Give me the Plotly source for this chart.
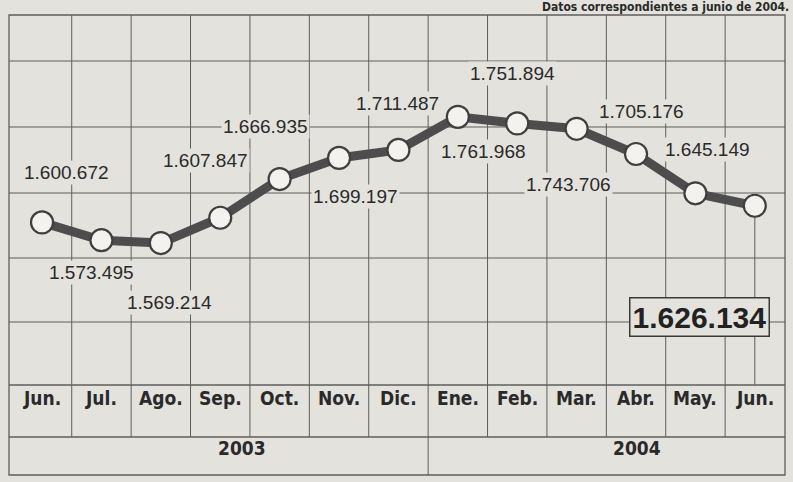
import plotly.graph_objects as go

# ---------------- data ----------------
months = ["Jun.", "Jul.", "Ago.", "Sep.", "Oct.", "Nov.", "Dic.",
          "Ene.", "Feb.", "Mar.", "Abr.", "May.", "Jun."]
values = [1600672, 1573495, 1569214, 1607847, 1666935, 1699197, 1711487,
          1761968, 1751894, 1743706, 1705176, 1645149, 1626134]
years = ["2003", "2004"]
year_pos = [3.37, 10.02]
subtitle = "Datos correspondientes a junio de 2004."

# ---------------- layout constants ----------------
W, H = 793, 482
ML, MR, MT, MB = 9, 8, 15, 7
PH = H - MT - MB
BG = "#e4e2dc"
GRID = "#5e5e5e"
TXT = "#2a2a2a"
LINE = "#4d4d4d"
NUM_FONT = "Liberation Sans, Arial, sans-serif"
COND_FONT = "DejaVu Sans Condensed, Liberation Sans Narrow, sans-serif"

# label offsets in pixels relative to each point (x right, y down)
label_dx = [24, -10, 9, -15, -14, 16, -1, 26, -5, -8, 5, 12]
label_dy = [-50, 32, 59, -57, -53, 39, -46, 35, -50, 56, -43, -44]
box_dx, box_dy = -55, 111

# grid in pixel rows
h_grid_px = [61, 127, 193, 258, 322]
month_top_px = 385
year_top_px = 437


def py(p):
    return (H - MB - p) / PH


def fmt(v):
    return f"{v:,}".replace(",", ".")


x = list(range(len(values)))

fig = go.Figure()
fig.add_trace(go.Scatter(
    x=x, y=values, mode="lines+markers",
    line=dict(color=LINE, width=9),
    marker=dict(size=22, color="#f3f2ee", line=dict(color="#3f3f3f", width=2.2)),
    hoverinfo="skip", showlegend=False,
))

shapes = []
for p in h_grid_px:
    shapes.append(dict(type="line", xref="paper", yref="paper", x0=0, x1=1,
                       y0=py(p), y1=py(p), line=dict(color=GRID, width=1), layer="below"))
for p in (month_top_px, year_top_px):
    shapes.append(dict(type="line", xref="paper", yref="paper", x0=0, x1=1,
                       y0=py(p), y1=py(p), line=dict(color=GRID, width=1.3), layer="below"))
for i in range(len(months) - 1):
    bottom = H - MB if i == 6 else year_top_px
    shapes.append(dict(type="line", xref="x", yref="paper", x0=i + 0.5, x1=i + 0.5,
                       y0=py(MT), y1=py(bottom), line=dict(color=GRID, width=1), layer="below"))
shapes.append(dict(type="rect", xref="paper", yref="paper", x0=0, x1=1, y0=0, y1=1,
                   line=dict(color=GRID, width=1.3), layer="below"))
shapes.append(dict(type="line", xref="x", yref="y", ysizemode="pixel",
                   yanchor=values[-1], x0=x[-1], x1=x[-1], y0=0, y1=-(month_top_px - 206),
                   line=dict(color=GRID, width=1), layer="below"))

annotations = []
for i in range(len(values) - 1):
    annotations.append(dict(
        x=x[i], y=values[i], xref="x", yref="y", text=fmt(values[i]), showarrow=False,
        xshift=label_dx[i], yshift=-label_dy[i], bgcolor=BG, borderpad=1,
        font=dict(family=NUM_FONT, size=19, color=TXT)))
annotations.append(dict(
    x=x[-1], y=values[-1], xref="x", yref="y", text="<b>" + fmt(values[-1]) + "</b>",
    showarrow=False, xshift=box_dx, yshift=-box_dy, bgcolor=BG,
    bordercolor="#3a3a3a", borderwidth=1.5, borderpad=2,
    font=dict(family=NUM_FONT, size=30, color="#222222")))
for i, m in enumerate(months):
    annotations.append(dict(
        x=i, y=py(411), xref="x", yref="paper", text="<b>" + m + "</b>", showarrow=False,
        font=dict(family=COND_FONT, size=19, color=TXT)))
for yr, xp in zip(years, year_pos):
    annotations.append(dict(
        x=xp, y=py(461), xref="x", yref="paper", text="<b>" + yr + "</b>", showarrow=False,
        font=dict(family=COND_FONT, size=19, color=TXT)))
annotations.append(dict(
    x=1, y=py(15), xref="paper", yref="paper", xanchor="right", yanchor="bottom",
    text="<b>" + subtitle + "</b>", showarrow=False, borderpad=0, xshift=5,
    font=dict(family=COND_FONT, size=12, color=TXT)))

fig.update_layout(
    width=W, height=H,
    margin=dict(l=ML, r=MR, t=MT, b=MB),
    paper_bgcolor=BG, plot_bgcolor=BG,
    xaxis=dict(range=[-0.556, 12.508], visible=False, fixedrange=True),
    yaxis=dict(range=[1214900, 1917500], visible=False, fixedrange=True),
    shapes=shapes, annotations=annotations,
    showlegend=False,
)

fig.write_html(
    "out.html",
    config={"displayModeBar": False},
    post_script="document.body.style.margin='0';document.body.style.overflow='hidden';",
)
